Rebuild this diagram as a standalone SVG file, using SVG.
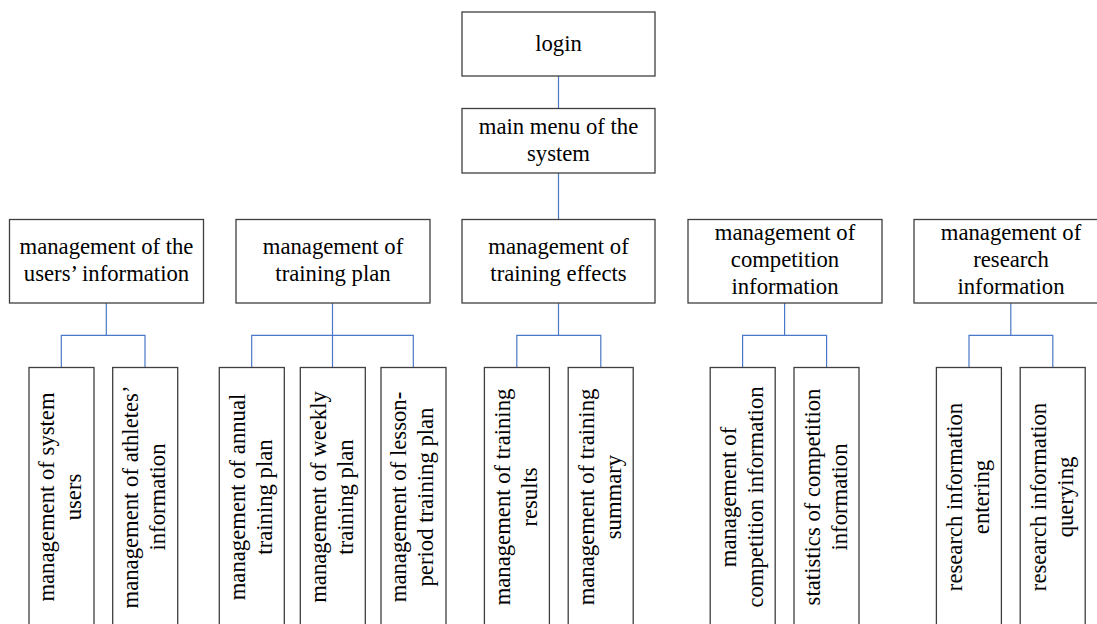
<svg xmlns="http://www.w3.org/2000/svg" width="1097" height="624" viewBox="0 0 1097 624">
<style>
.box{fill:#fff;stroke:#3f3f3f;stroke-width:1.3}
.t{font-family:'Liberation Serif',serif;font-size:22.7px;fill:#000;text-anchor:middle}
.c{fill:none;stroke:#4a78c8;stroke-width:1.2}
</style>
<rect width="1097" height="624" fill="#fff"/>
<g id="connectors">
<path class="c" d="M558.5 76V108M558.5 173V219"/>
<path class="c" d="M106.3 303V335.3M61.3 367.5V335.3H145V367.5"/>
<path class="c" d="M332.5 303V335.3M251.7 367.5V335.3H413.3V367.5M332.5 335.3V367.5"/>
<path class="c" d="M558.5 303V335.3M516.8 367.5V335.3H600.8V367.5"/>
<path class="c" d="M784.6 303V335.3M742.6 367.5V335.3H826.6V367.5"/>
<path class="c" d="M1010.8 303V335.3M969 367.5V335.3H1052.8V367.5"/>
</g>
<g id="login"><rect class="box" x="462" y="12" width="193" height="64"/><text class="t" x="558.5" y="50.5">login</text></g>
<g id="main-menu"><rect class="box" x="462" y="108.5" width="193" height="64.5"/><text class="t" x="558.5" y="133.5">main menu of the</text><text class="t" x="558.5" y="160.5">system</text></g>
<g id="users-info"><rect class="box" x="9.5" y="219.5" width="194" height="83.5"/><text class="t" x="106.5" y="254">management of the</text><text class="t" x="106.5" y="281">users’ information</text></g>
<g id="training-plan"><rect class="box" x="236" y="219.5" width="194" height="83.5"/><text class="t" x="333" y="254">management of</text><text class="t" x="333" y="281">training plan</text></g>
<g id="training-effects"><rect class="box" x="462" y="219.5" width="193" height="83.5"/><text class="t" x="558.5" y="254">management of</text><text class="t" x="558.5" y="281">training effects</text></g>
<g id="competition-info"><rect class="box" x="688" y="219.5" width="194" height="83.5"/><text class="t" x="785" y="239.5">management of</text><text class="t" x="785" y="266.8">competition</text><text class="t" x="785" y="294">information</text></g>
<g id="research-info"><rect class="box" x="914" y="219.5" width="194" height="83.5"/><text class="t" x="1011" y="239.5">management of</text><text class="t" x="1011" y="266.8">research</text><text class="t" x="1011" y="294">information</text></g>
<g id="system-users"><rect class="box" x="29" y="367.5" width="65" height="280"/><text class="t" transform="translate(61.3 497) rotate(-90)" x="0" y="-7">management of system</text><text class="t" transform="translate(61.3 497) rotate(-90)" x="0" y="20">users</text></g>
<g id="athletes-info"><rect class="box" x="112.7" y="367.5" width="65" height="280"/><text class="t" transform="translate(145 497) rotate(-90)" x="0" y="-7">management of athletes’</text><text class="t" transform="translate(145 497) rotate(-90)" x="0" y="20">information</text></g>
<g id="annual-plan"><rect class="box" x="219.3" y="367.5" width="65" height="280"/><text class="t" transform="translate(251.7 497) rotate(-90)" x="0" y="-7">management of annual</text><text class="t" transform="translate(251.7 497) rotate(-90)" x="0" y="20">training plan</text></g>
<g id="weekly-plan"><rect class="box" x="300.3" y="367.5" width="65" height="280"/><text class="t" transform="translate(332.7 497) rotate(-90)" x="0" y="-7">management of weekly</text><text class="t" transform="translate(332.7 497) rotate(-90)" x="0" y="20">training plan</text></g>
<g id="lesson-plan"><rect class="box" x="381" y="367.5" width="65" height="280"/><text class="t" transform="translate(413.3 497) rotate(-90)" x="0" y="-7">management of lesson<tspan font-weight="bold">-</tspan></text><text class="t" transform="translate(413.3 497) rotate(-90)" x="0" y="20">period training plan</text></g>
<g id="training-results"><rect class="box" x="484.4" y="367.5" width="65" height="280"/><text class="t" transform="translate(516.8 497) rotate(-90)" x="0" y="-7">management of training</text><text class="t" transform="translate(516.8 497) rotate(-90)" x="0" y="20">results</text></g>
<g id="training-summary"><rect class="box" x="568.2" y="367.5" width="65" height="280"/><text class="t" transform="translate(600.7 497) rotate(-90)" x="0" y="-7">management of training</text><text class="t" transform="translate(600.7 497) rotate(-90)" x="0" y="20">summary</text></g>
<g id="competition-mgmt"><rect class="box" x="710.2" y="367.5" width="65" height="280"/><text class="t" transform="translate(742.6 497) rotate(-90)" x="0" y="-7">management of</text><text class="t" transform="translate(742.6 497) rotate(-90)" x="0" y="20">competition information</text></g>
<g id="competition-stats"><rect class="box" x="794" y="367.5" width="65" height="280"/><text class="t" transform="translate(826.5 497) rotate(-90)" x="0" y="-7">statistics of competition</text><text class="t" transform="translate(826.5 497) rotate(-90)" x="0" y="20">information</text></g>
<g id="research-entering"><rect class="box" x="936.4" y="367.5" width="65" height="280"/><text class="t" transform="translate(968.9 497) rotate(-90)" x="0" y="-7">research information</text><text class="t" transform="translate(968.9 497) rotate(-90)" x="0" y="20">entering</text></g>
<g id="research-querying"><rect class="box" x="1020.2" y="367.5" width="65" height="280"/><text class="t" transform="translate(1052.7 497) rotate(-90)" x="0" y="-7">research information</text><text class="t" transform="translate(1052.7 497) rotate(-90)" x="0" y="20">querying</text></g>
</svg>
